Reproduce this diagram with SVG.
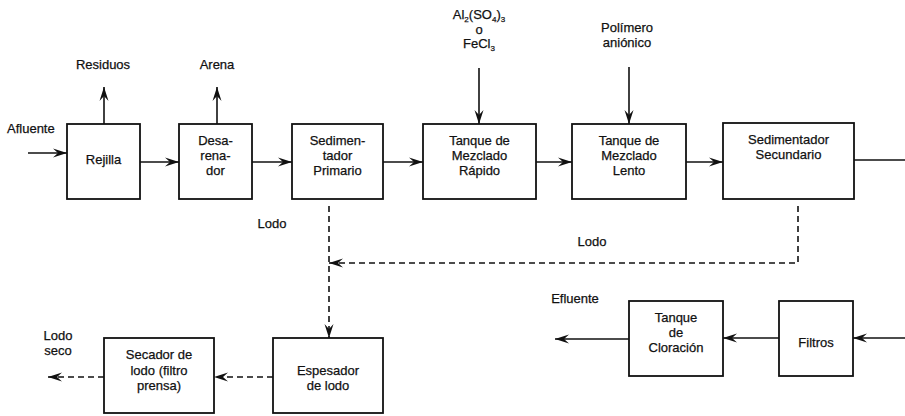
<svg xmlns="http://www.w3.org/2000/svg" width="905" height="416" viewBox="0 0 905 416">
<style>
.box{fill:#fff;stroke:#111;stroke-width:1.8}
.ln{fill:none;stroke:#111;stroke-width:1.6}
.dash{fill:none;stroke:#111;stroke-width:1.6;stroke-dasharray:6 4}
text{font-family:"Liberation Sans",Arial,sans-serif;font-size:13px;fill:#111;stroke:#111;stroke-width:0.25;text-anchor:middle}
.st{text-anchor:start}
</style>
<defs>
<marker id="ah" markerUnits="userSpaceOnUse" viewBox="-15 -5 16 10" refX="0" refY="0" markerWidth="16" markerHeight="10" orient="auto">
<path d="M0,0 L-14,-4.5 L-9,0 L-14,4.5 Z" fill="#111"/>
</marker>
</defs>
<g id="connectors">
<line class="ln" x1="28" y1="153" x2="67" y2="153" marker-end="url(#ah)"/>
<line class="ln" x1="104" y1="124" x2="104" y2="87" marker-end="url(#ah)"/>
<line class="ln" x1="217" y1="124" x2="217" y2="87" marker-end="url(#ah)"/>
<line class="ln" x1="140" y1="162" x2="179" y2="162" marker-end="url(#ah)"/>
<line class="ln" x1="252" y1="162" x2="292" y2="162" marker-end="url(#ah)"/>
<line class="ln" x1="383" y1="162" x2="423" y2="162" marker-end="url(#ah)"/>
<line class="ln" x1="536" y1="162" x2="572" y2="162" marker-end="url(#ah)"/>
<line class="ln" x1="686" y1="162" x2="723" y2="162" marker-end="url(#ah)"/>
<line class="ln" x1="854" y1="160" x2="905" y2="160"/>
<line class="ln" x1="479" y1="68" x2="479" y2="124" marker-end="url(#ah)"/>
<line class="ln" x1="629" y1="67" x2="629" y2="124" marker-end="url(#ah)"/>
<line class="dash" x1="329" y1="206" x2="329" y2="338" marker-end="url(#ah)"/>
<polyline class="dash" points="798,206 798,263 329,263" marker-end="url(#ah)"/>
<line class="dash" x1="273" y1="377" x2="214" y2="377" marker-end="url(#ah)"/>
<line class="dash" x1="104" y1="377" x2="48" y2="377" marker-end="url(#ah)"/>
<line class="ln" x1="905" y1="338" x2="853" y2="338" marker-end="url(#ah)"/>
<line class="ln" x1="779" y1="338" x2="723" y2="338" marker-end="url(#ah)"/>
<line class="ln" x1="629" y1="339" x2="555" y2="339" marker-end="url(#ah)"/>
</g>
<g id="labels">
<text class="st" x="7" y="133">Afluente</text>
<text x="103" y="69">Residuos</text>
<text x="217" y="69">Arena</text>
<text x="479" y="19">Al<tspan font-size="8" dy="3">2</tspan><tspan dy="-3">(SO</tspan><tspan font-size="8" dy="3">4</tspan><tspan dy="-3">)</tspan><tspan font-size="8" dy="3">3</tspan></text>
<text x="479" y="34">o</text>
<text x="479" y="48">FeCl<tspan font-size="8" dy="3">3</tspan></text>
<text x="627" y="32">Polímero</text>
<text x="627" y="47">aniónico</text>
<text x="272" y="228">Lodo</text>
<text x="592" y="246">Lodo</text>
<text x="575" y="303">Efluente</text>
<text x="58" y="340">Lodo</text>
<text x="58" y="355">seco</text>
</g>
<g id="rejilla"><rect class="box" x="67" y="124" width="73" height="75"/><text x="103.5" y="164">Rejilla</text></g>
<g id="desarenador"><rect class="box" x="179" y="124" width="73" height="75"/><text x="215.5" y="145">Desa-</text><text x="215.5" y="160">rena-</text><text x="215.5" y="175">dor</text></g>
<g id="sed-primario"><rect class="box" x="292" y="124" width="91" height="75"/><text x="337.5" y="145">Sedimen-</text><text x="337.5" y="160">tador</text><text x="337.5" y="175">Primario</text></g>
<g id="mezcla-rapida"><rect class="box" x="423" y="124" width="113" height="75"/><text x="479.5" y="145">Tanque de</text><text x="479.5" y="160">Mezclado</text><text x="479.5" y="175">Rápido</text></g>
<g id="mezcla-lenta"><rect class="box" x="572" y="124" width="114" height="75"/><text x="629" y="145">Tanque de</text><text x="629" y="160">Mezclado</text><text x="629" y="175">Lento</text></g>
<g id="sed-secundario"><rect class="box" x="723" y="123" width="131" height="76"/><text x="788.5" y="144">Sedimentador</text><text x="788.5" y="159">Secundario</text></g>
<g id="espesador"><rect class="box" x="273" y="338" width="110" height="75"/><text x="328" y="375">Espesador</text><text x="328" y="390">de lodo</text></g>
<g id="secador"><rect class="box" x="104" y="338" width="110" height="75"/><text x="159" y="359">Secador de</text><text x="159" y="375">lodo (filtro</text><text x="159" y="390">prensa)</text></g>
<g id="cloracion"><rect class="box" x="629" y="301" width="94" height="75"/><text x="676" y="322">Tanque</text><text x="676" y="337">de</text><text x="676" y="352">Cloración</text></g>
<g id="filtros"><rect class="box" x="779" y="301" width="74" height="75"/><text x="816" y="347">Filtros</text></g>
</svg>
